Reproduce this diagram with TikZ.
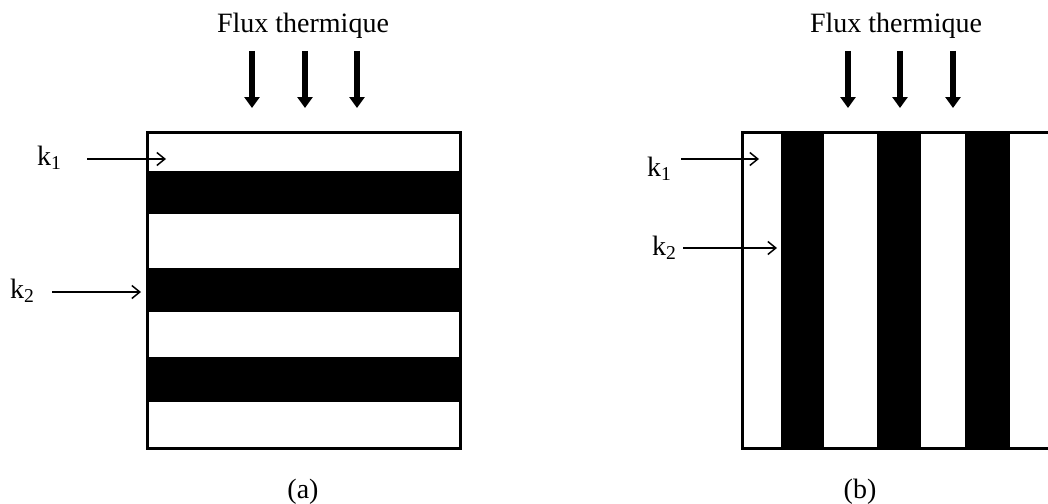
\documentclass[tikz,border=0pt]{standalone}
\usepackage{fontspec}
\setmainfont{Liberation Serif}
\usetikzlibrary{arrows.meta}
\begin{document}
\begin{tikzpicture}[x=1pt,y=-1pt,
  txt/.style={inner sep=0pt,font=\fontsize{28}{33}\selectfont},
  box/.style={line width=3pt},
  stripe/.style={fill=black},
  flux/.style={line width=5.5pt,-{Triangle[length=11pt,width=15pt]}},
  karrow/.style={line width=1.5pt,-{Straight Barb[length=8pt,width=13pt,line width=1.5pt]}}]
\useasboundingbox (0,0) rectangle (1048,503);
% ---------- (a)
\fill[stripe] (147,171) rectangle (460,214);
\fill[stripe] (147,268) rectangle (460,312);
\fill[stripe] (147,357) rectangle (460,402);
\draw[box] (147,132) rectangle (460,448);
\node[txt,anchor=base] (fluxa) at (303,33) {Flux thermique};
\foreach \i/\x in {1/252,2/305,3/357}{
  \coordinate (fa\i s) at (\x,51);
  \coordinate (fa\i e) at (\x,108);
  \draw[flux] (fa\i s) -- (fa\i e);
}
\node[txt,anchor=base west] (k1a) at (37,165) {k\textsubscript{1}};
\node[txt,anchor=base west] (k2a) at (10,298) {k\textsubscript{2}};
\coordinate (k1as) at (87,159);
\coordinate (k1ae) at (166,159);
\coordinate (k2as) at (52,292);
\coordinate (k2ae) at (141,292);
\draw[karrow] (k1as) -- (k1ae);
\draw[karrow] (k2as) -- (k2ae);
\node[txt,anchor=base] (laba) at (303,498) {(a)};
% ---------- (b)
\fill[stripe] (781,132) rectangle (824,448);
\fill[stripe] (877,132) rectangle (921,448);
\fill[stripe] (965,132) rectangle (1010,448);
\draw[box] (742,132) rectangle (1055,448);
\node[txt,anchor=base] (fluxb) at (896,33) {Flux thermique};
\foreach \i/\x in {1/848,2/900,3/953}{
  \coordinate (fb\i s) at (\x,51);
  \coordinate (fb\i e) at (\x,108);
  \draw[flux] (fb\i s) -- (fb\i e);
}
\node[txt,anchor=base west] (k1b) at (647,176) {k\textsubscript{1}};
\node[txt,anchor=base west] (k2b) at (652,255) {k\textsubscript{2}};
\coordinate (k1bs) at (681,159);
\coordinate (k1be) at (759,159);
\coordinate (k2bs) at (683,248);
\coordinate (k2be) at (777,248);
\draw[karrow] (k1bs) -- (k1be);
\draw[karrow] (k2bs) -- (k2be);
\node[txt,anchor=base] (labb) at (860,498) {(b)};
\end{tikzpicture}
\end{document}
